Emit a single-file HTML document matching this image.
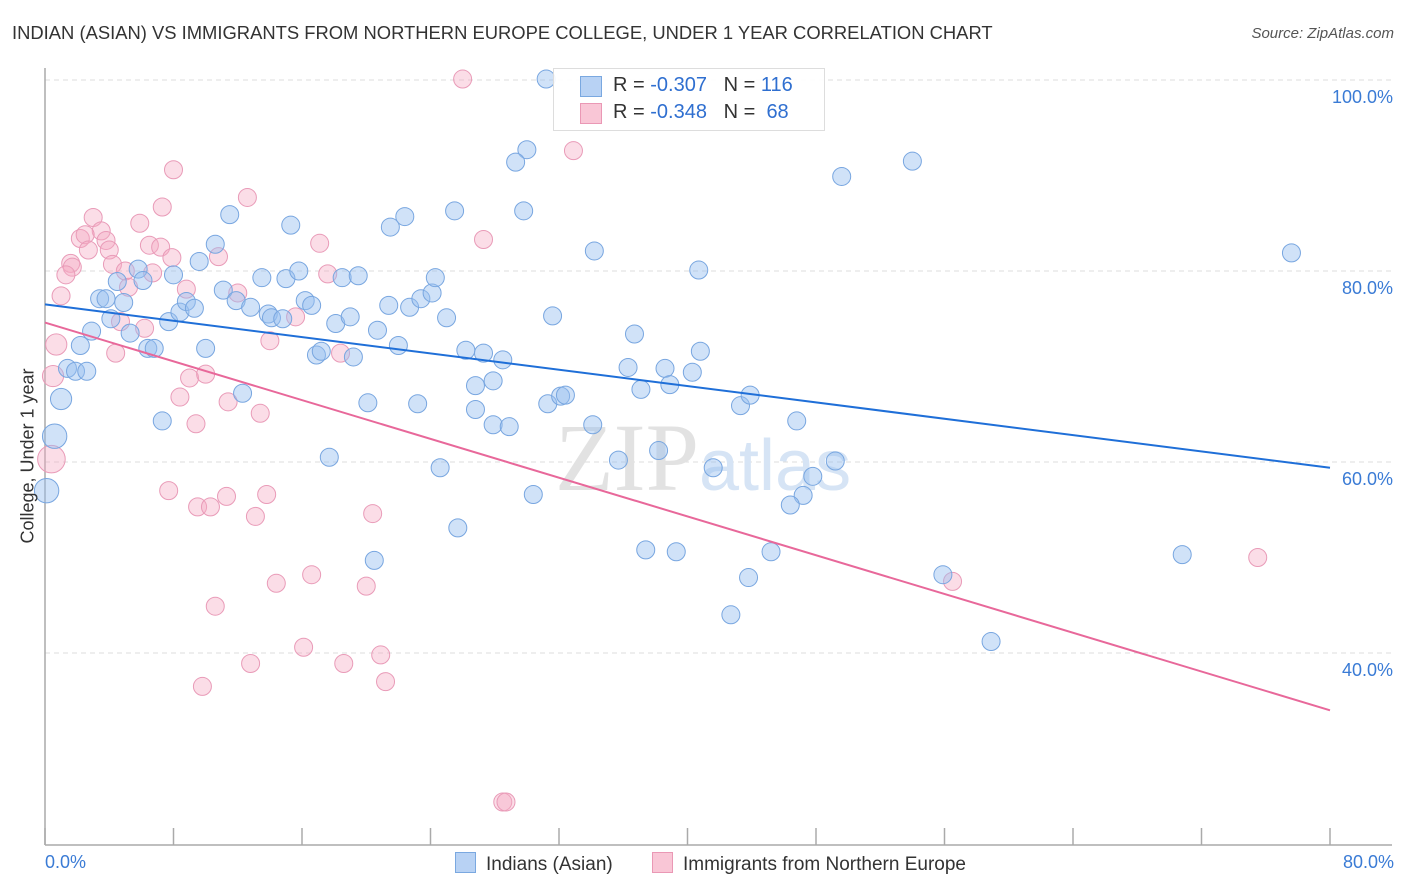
<!DOCTYPE html>
<html><head><meta charset="utf-8">
<style>
body{margin:0;background:#fff;font-family:"Liberation Sans",sans-serif;}
#wrap{position:relative;width:1406px;height:892px;overflow:hidden;}
.t{position:absolute;white-space:nowrap;}
</style></head>
<body>
<div id="wrap">
<div class="t" style="left:12px;top:22px;font-size:18.4px;color:#333;">INDIAN (ASIAN) VS IMMIGRANTS FROM NORTHERN EUROPE COLLEGE, UNDER 1 YEAR CORRELATION CHART</div>
<div class="t" style="right:12px;top:25px;font-size:15px;color:#555;font-style:italic;">Source: ZipAtlas.com</div>
<svg id="svg" width="1406" height="892" style="position:absolute;left:0;top:0"></svg>
</div>
<script>
const xTicks=[0,8,16,24,32,40,48,56,64,72,80];
const yTicks=[40,60,80,100];
const yTickLabels=["40.0%","60.0%","80.0%","100.0%"];
const blueX=[31.2,30.0,29.3,29.8,25.5,22.4,21.5,15.3,11.5,10.6,9.6,8.0,5.8,6.1,4.5,3.4,3.8,4.9,4.1,2.9,2.2,1.4,1.9,2.6,1.0,0.6,0.1,5.3,6.4,6.8,7.7,8.4,8.8,9.3,10.0,11.1,11.9,12.8,13.5,13.9,14.1,14.8,15.0,15.8,16.2,16.6,16.9,17.2,18.1,18.5,19.0,19.5,19.2,20.7,20.1,21.4,22.0,22.7,23.4,24.1,24.3,25.0,23.2,26.2,27.3,26.8,27.9,26.8,27.9,28.9,28.5,24.6,25.7,20.5,17.7,7.3,12.3,31.6,34.2,36.7,36.3,37.1,38.6,38.9,40.3,40.8,40.7,34.1,31.3,32.1,32.4,30.4,35.7,38.2,41.6,43.3,43.9,46.8,47.8,49.2,47.2,46.4,37.4,39.3,45.2,43.8,42.7,49.6,54.0,77.6,70.8,55.9,58.9];
const blueY=[100.1,92.7,91.4,86.3,86.3,85.7,84.6,84.8,85.9,82.8,81.0,79.6,80.2,79.0,78.9,77.1,77.1,76.7,75.0,73.7,72.2,69.8,69.5,69.5,66.6,62.7,57.0,73.5,71.9,71.9,74.7,75.7,76.8,76.1,71.9,78.0,76.9,76.2,79.3,75.5,75.1,75.0,79.2,80.0,76.9,76.4,71.2,71.6,74.5,79.3,75.2,79.5,71.0,73.8,66.2,76.4,72.2,76.2,77.1,77.7,79.3,75.1,66.1,71.7,71.4,68.0,68.5,65.5,63.9,63.7,70.7,59.4,53.1,49.7,60.5,64.3,67.2,75.3,82.1,73.4,69.9,67.6,69.8,68.1,69.4,71.6,80.1,63.9,66.1,66.9,67.0,56.6,60.2,61.2,59.4,65.9,67.0,64.3,58.5,60.1,56.5,55.5,50.8,50.6,50.6,47.9,44.0,89.9,91.5,81.9,50.3,48.2,41.2];
const blueN=[1,1,1,1,1,1,1,1,1,1,1,1,1,1,1,1,1,1,1,1,1,1,1,1,2,3,3,1,1,1,1,1,1,1,1,1,1,1,1,1,1,1,1,1,1,1,1,1,1,1,1,1,1,1,1,1,1,1,1,1,1,1,1,1,1,1,1,1,1,1,1,1,1,1,1,1,1,1,1,1,1,1,1,1,1,1,1,1,1,1,1,1,1,1,1,1,1,1,1,1,1,1,1,1,1,1,1,1,1,1,1,1,1];
const pinkX=[26.0,32.9,8.0,12.6,7.3,5.9,3.0,3.5,3.8,2.2,2.5,4.0,2.7,6.5,7.2,7.9,10.8,1.6,1.7,1.3,4.2,5.0,6.7,5.2,8.8,12.0,1.0,4.7,6.2,14.0,15.6,17.1,17.6,18.4,0.7,4.4,0.5,9.0,10.0,8.4,11.4,9.4,13.4,27.3,7.7,9.5,10.3,11.3,13.8,13.1,20.4,16.6,14.4,20.0,10.6,16.1,20.9,18.6,12.8,21.2,9.8,28.5,28.7,75.5,56.5,0.4];
const pinkY=[100.1,92.6,90.6,87.7,86.7,85.0,85.6,84.2,83.2,83.4,83.8,82.2,82.2,82.7,82.5,81.4,81.5,80.8,80.4,79.6,80.7,80.0,79.8,78.3,78.1,77.7,77.4,74.7,74.0,72.7,75.2,82.9,79.7,71.4,72.3,71.4,69.0,68.8,69.2,66.8,66.3,64.0,65.1,83.3,57.0,55.3,55.3,56.4,56.6,54.3,54.6,48.2,47.3,47.0,44.9,40.6,39.8,38.9,38.9,37.0,36.5,24.4,24.4,50.0,47.5,60.3];
const pinkN=[1,1,1,1,1,1,1,1,1,1,1,1,1,1,1,1,1,1,1,1,1,1,1,1,1,1,1,1,1,1,1,1,1,1,2,1,2,1,1,1,1,1,1,1,1,1,1,1,1,1,1,1,1,1,1,1,1,1,1,1,1,1,1,1,1,4];
const blueTrend=[76.5,59.4];
const pinkTrend=[74.6,34.0];

const X0=45,X1=1330,Y100=80,PXPER=9.55;
function sx(v){return X0+(X1-X0)*v/80;}
function sy(v){return Y100+(100-v)*PXPER;}
const svg=document.getElementById('svg');
const NS='http://www.w3.org/2000/svg';
function mk(tag,attrs){const e=document.createElementNS(NS,tag);for(const k in attrs)e.setAttribute(k,attrs[k]);svg.appendChild(e);return e;}

yTicks.forEach((t,i)=>{
  const g=mk('line',{x1:X0,x2:1392,y1:sy(t),y2:sy(t),stroke:'#ddd','stroke-dasharray':'5,4'});
  
  
  const tx=mk('text',{x:1393,y:sy(t)+23,'text-anchor':'end','font-size':18,fill:'#3a7bd5','font-family':'Liberation Sans, sans-serif'});
  tx.textContent=yTickLabels[i];
  
  
});
const ax=mk('line',{x1:X0,x2:X0,y1:68,y2:845,stroke:'#aaa','stroke-width':1.5});


const bx=mk('line',{x1:X0,x2:1392,y1:845,y2:845,stroke:'#aaa','stroke-width':1.5});


xTicks.forEach(t=>{
  const l=mk('line',{x1:sx(t),x2:sx(t),y1:828,y2:845,stroke:'#aaa','stroke-width':1.5});
  
  
});
const wm=mk('text',{x:555,y:490,'font-size':96,fill:'#e2e2e2','font-family':'Liberation Serif, serif'});
wm.innerHTML='ZIP<tspan fill="#d6e4f5" font-family="Liberation Sans, sans-serif" font-size="72">atlas</tspan>';



function pts(xs,ys,ns,fill,stroke,name){
  xs.forEach((v,i)=>{
    const c=mk('circle',{cx:sx(v),cy:sy(ys[i]),r:9+(ns[i]-1)*1.6,fill:fill,stroke:stroke,'stroke-width':1});
    
    
  });
}
pts(pinkX,pinkY,pinkN,'rgba(245,170,195,0.4)','#e99bb8','pink-point');
pts(blueX,blueY,blueN,'rgba(150,190,240,0.45)','#78a6e0','blue-point');
const bl=mk('line',{x1:sx(0),y1:sy(blueTrend[0]),x2:sx(80),y2:sy(blueTrend[1]),stroke:'#1f6fd8','stroke-width':2});


const pl=mk('line',{x1:sx(0),y1:sy(pinkTrend[0]),x2:sx(80),y2:sy(pinkTrend[1]),stroke:'#e8689a','stroke-width':2});


</script>
<div class="t" style="left:553px;top:68px;width:270px;height:61px;background:rgba(255,255,255,0.9);border:1px solid #ddd;"></div>
<div class="t" style="left:580px;top:76px;width:20px;height:19px;background:#b8d2f4;border:1px solid #7aa8e0;"></div>
<div class="t" style="left:580px;top:103px;width:20px;height:19px;background:#f9c6d6;border:1px solid #ea98b5;"></div>
<div class="t" style="left:613px;top:74px;font-size:20px;color:#333;">R = <span style="color:#2f6fd0">-0.307</span>&nbsp;&nbsp;&nbsp;N = <span style="color:#2f6fd0">116</span></div>
<div class="t" style="left:613px;top:101px;font-size:20px;color:#333;">R = <span style="color:#2f6fd0">-0.348</span>&nbsp;&nbsp;&nbsp;N = &nbsp;<span style="color:#2f6fd0">68</span></div>
<div class="t" style="left:28px;top:456px;font-size:18px;color:#333;transform:translate(-50%,-50%) rotate(-90deg);">College, Under 1 year</div>
<div class="t" style="left:45px;top:852px;font-size:18px;color:#3a7bd5;">0.0%</div>
<div class="t" style="right:12px;top:852px;font-size:18px;color:#3a7bd5;">80.0%</div>
<div class="t" style="left:455px;top:852px;font-size:19px;color:#333;"><span style="display:inline-block;width:19px;height:19px;background:#b8d2f4;border:1px solid #7aa8e0;vertical-align:-3px;margin-right:10px;"></span>Indians (Asian)</div>
<div class="t" style="left:652px;top:852px;font-size:19px;color:#333;"><span style="display:inline-block;width:19px;height:19px;background:#f9c6d6;border:1px solid #ea98b5;vertical-align:-3px;margin-right:10px;"></span>Immigrants from Northern Europe</div>
</body></html>
